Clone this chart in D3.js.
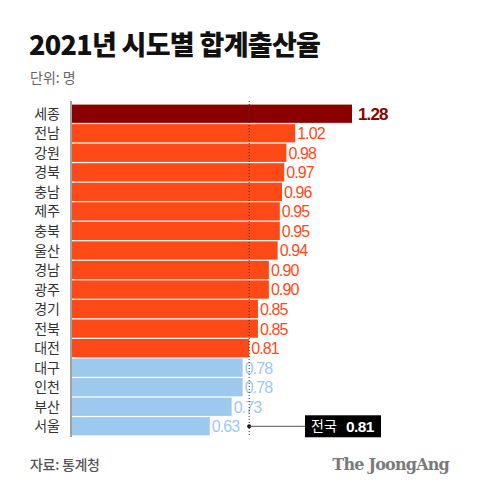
<!DOCTYPE html>
<html>
<head>
<meta charset="utf-8">
<script src="https://cdn.jsdelivr.net/npm/d3@7"></script>
<style>
  body { margin: 0; background: #fff; }
</style>
</head>
<body>
<div id="chart"></div>
<script>
// data
var regions = ["세종", "전남", "강원", "경북", "충남", "제주", "충북", "울산", "경남", "광주", "경기", "전북", "대전", "대구", "인천", "부산", "서울"];
var rates = [1.28, 1.02, 0.98, 0.97, 0.96, 0.95, 0.95, 0.94, 0.90, 0.90, 0.85, 0.85, 0.81, 0.78, 0.78, 0.73, 0.63];
var nationalAvg = 0.81;
var xDomain = [0, 1.28];

var w = 480, h = 492;
var plotLeft = 72, plotRight = 352, plotTop = 104, plotBottom = 436;
var numFont = "'Liberation Sans', Arial, sans-serif";

var data = regions.map(function(r, i) { return { name: r, value: rates[i] }; });

var svg = d3.select("#chart").append("svg")
  .attr("width", w)
  .attr("height", h)
  .attr("font-family", "'Noto Sans CJK KR', 'Noto Sans', sans-serif");

var x = d3.scaleLinear().domain(xDomain).range([plotLeft, plotRight]);
var y = d3.scaleBand().domain(regions).range([plotTop, plotBottom]).paddingInner(0.065).paddingOuter(0.03);

function barColor(d, i) {
  if (i === 0) return "#8a0000";
  if (d.value < nationalAvg) return "#9dc9ee";
  return "#ff4a17";
}

// title
svg.append("text")
  .attr("x", 29).attr("y", 55)
  .attr("font-size", 27)
  .attr("font-weight", 800)
  .attr("letter-spacing", -0.7)
  .attr("fill", "#111")
  .text("2021년 시도별 합계출산율");

svg.append("text")
  .attr("x", 30).attr("y", 83)
  .attr("font-size", 14)
  .attr("fill", "#666")
  .text("단위: 명");

// bars
svg.append("g").selectAll("rect")
  .data(data)
  .enter().append("rect")
  .attr("x", x(0))
  .attr("y", function(d) { return y(d.name); })
  .attr("width", function(d) { return x(d.value) - x(0); })
  .attr("height", y.bandwidth())
  .attr("fill", barColor);

// category labels
svg.append("g").selectAll("text")
  .data(data)
  .enter().append("text")
  .attr("x", 60)
  .attr("y", function(d) { return y(d.name) + y.bandwidth() / 2; })
  .attr("dy", "0.36em")
  .attr("text-anchor", "end")
  .attr("font-size", 14)
  .attr("fill", "#333")
  .text(function(d) { return d.name; });

// value labels
svg.append("g").selectAll("text")
  .data(data)
  .enter().append("text")
  .attr("x", function(d, i) { return x(d.value) + (i === 0 ? 6 : 2); })
  .attr("y", function(d) { return y(d.name) + y.bandwidth() / 2; })
  .attr("dy", "0.37em")
  .attr("font-family", numFont)
  .attr("font-size", function(d, i) { return i === 0 ? 17 : 16; })
  .attr("font-weight", function(d, i) { return i === 0 ? 700 : 400; })
  .attr("letter-spacing", -0.9)
  .attr("fill", barColor)
  .text(function(d) { return d.value.toFixed(2); });

// axis line
svg.append("line")
  .attr("x1", plotLeft - 1).attr("x2", plotLeft - 1)
  .attr("y1", 101).attr("y2", 437)
  .attr("stroke", "#444").attr("stroke-width", 1);

// national average dotted line
var ax = x(nationalAvg);
svg.append("line")
  .attr("x1", ax).attr("x2", ax)
  .attr("y1", 101).attr("y2", 437)
  .attr("stroke", "#333").attr("stroke-width", 1)
  .attr("stroke-dasharray", "1,2");

// annotation
var ay = y("서울") + y.bandwidth() / 2;
svg.append("circle")
  .attr("cx", ax).attr("cy", ay).attr("r", 2)
  .attr("fill", "#111");
svg.append("line")
  .attr("x1", ax).attr("x2", 306)
  .attr("y1", ay).attr("y2", ay)
  .attr("stroke", "#555").attr("stroke-width", 1);
svg.append("rect")
  .attr("x", 305).attr("y", ay - 11)
  .attr("width", 76).attr("height", 22)
  .attr("fill", "#000");
svg.append("text")
  .attr("x", 311).attr("y", ay)
  .attr("dy", "0.36em")
  .attr("font-size", 14)
  .attr("fill", "#fff")
  .text("전국");
svg.append("text")
  .attr("x", 346).attr("y", ay)
  .attr("dy", "0.37em")
  .attr("font-family", numFont)
  .attr("font-size", 15.5)
  .attr("font-weight", 700)
  .attr("letter-spacing", -0.6)
  .attr("fill", "#fff")
  .text(nationalAvg.toFixed(2));

// footer
svg.append("text")
  .attr("x", 30).attr("y", 470)
  .attr("font-size", 14)
  .attr("font-weight", 500)
  .attr("letter-spacing", -0.3)
  .attr("fill", "#555")
  .text("자료: 통계청");

svg.append("text")
  .attr("x", 449).attr("y", 470)
  .attr("text-anchor", "end")
  .attr("font-family", "'DejaVu Serif', 'Liberation Serif', serif")
  .attr("font-size", 16)
  .attr("font-weight", 700)
  .attr("letter-spacing", -0.8)
  .attr("fill", "#7a7a7a")
  .text("The JoongAng");
</script>
</body>
</html>
